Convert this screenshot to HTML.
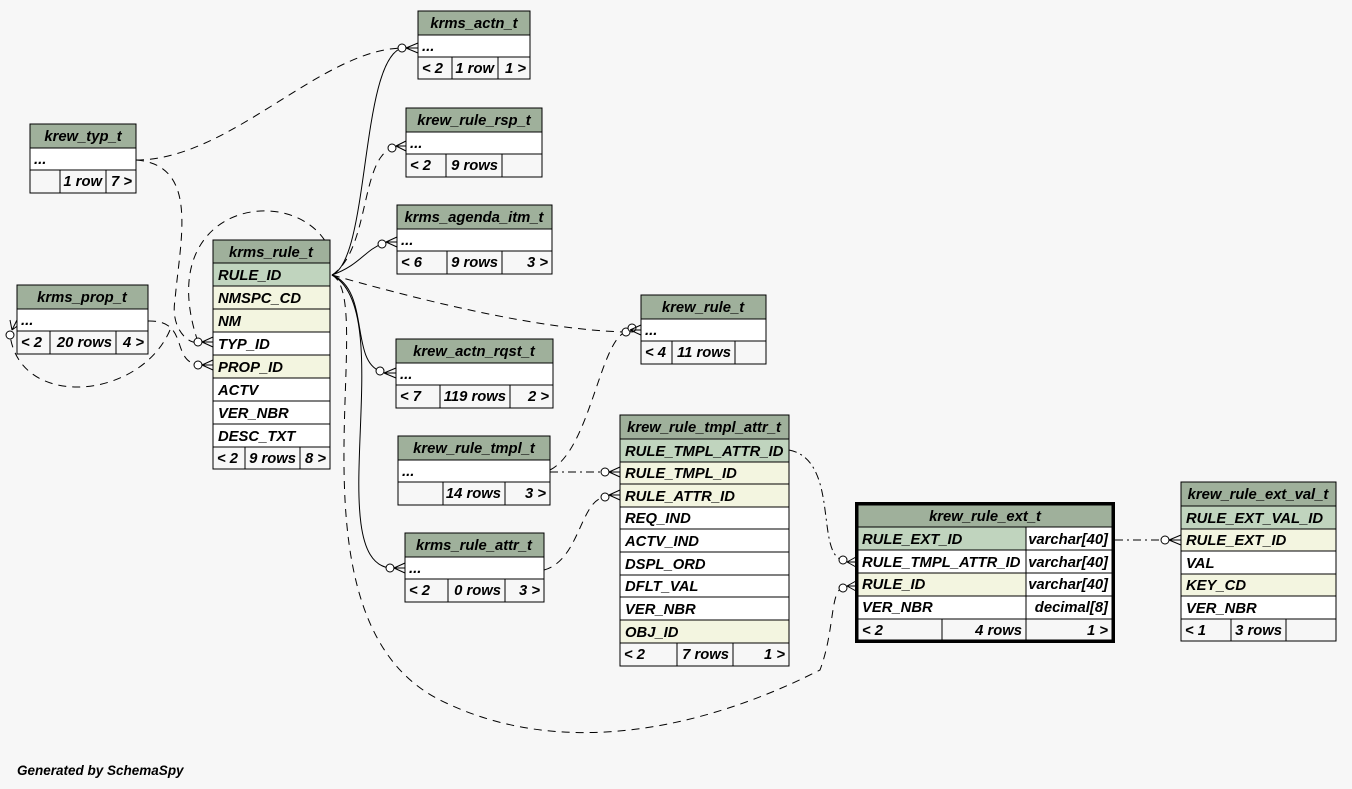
<!DOCTYPE html>
<html><head><meta charset="utf-8"><style>
html,body{margin:0;padding:0;background:#f7f7f7}
svg{display:block}
text{font-family:"Liberation Sans",Arial,sans-serif;font-weight:bold;font-style:italic;font-size:14.8px;fill:#000}
.h{fill:#9fb09b}.pk{fill:#c0d4be}.fk{fill:#f3f5e0}.w{fill:#fff}.f{fill:#f7f7f7}
rect{stroke:#000;stroke-width:1}
.e{fill:none;stroke:#000;stroke-width:1;stroke-dasharray:8,6}
.ed{fill:none;stroke:#000;stroke-width:1;stroke-dasharray:8,4,2,4}
.s{fill:none;stroke:#000;stroke-width:1}
circle{fill:#fff;stroke:#000}
</style></head><body>
<svg width="1352" height="789" viewBox="0 0 1352 789">
<rect x="0" y="0" width="1352" height="789" style="fill:#f7f7f7;stroke:none"/>

<path class="e" d="M136,160 C230,160 320,50 402,48"/>
<path class="s" d="M332,275 C370,260 360,60 402,48"/>
<path class="e" d="M332,275 C370,250 360,160 392,148"/>
<path class="s" d="M332,275 C360,265 365,250 382,244"/>
<path class="e" d="M332,275 C420,300 540,330 626,332"/>
<path class="s" d="M332,275 C370,290 350,360 380,371"/>
<path class="s" d="M332,275 C400,310 320,560 390,568"/>
<path class="e" d="M332,275 C380,300 280,620 440,700 C600,780 780,690 820,670 C835,630 830,590 843,588"/>
<path class="e" d="M136,160 C200,165 180,240 175,300 C170,330 190,345 198,342"/>
<path class="e" d="M148,321 C190,320 170,360 198,365"/>
<path class="e" d="M198,342 C150,200 300,180 330,250 M170,330 C140,400 20,410 10,335"/>
<path class="e" d="M550,470 C590,450 600,340 626,332"/>
<path class="ed" d="M550,472 L605,472"/>
<path class="e" d="M544,570 C580,560 580,500 605,497"/>
<path class="ed" d="M789,450 C840,460 815,555 843,560"/>
<path class="ed" d="M1115,540 L1165,540"/>
<circle cx="402" cy="48" r="4"/><path class="s" d="M406,48 L418,48 M406,48 L418,43 M406,48 L418,53"/>
<circle cx="392" cy="148" r="4"/><path class="s" d="M396,146 L406,146 M396,146 L406,141 M396,146 L406,151"/>
<circle cx="382" cy="244" r="4"/><path class="s" d="M386,242 L397,242 M386,242 L397,237 M386,242 L397,247"/>
<circle cx="380" cy="371" r="4"/><path class="s" d="M384,373 L396,373 M384,373 L396,368 M384,373 L396,378"/>
<circle cx="390" cy="568" r="4"/><path class="s" d="M394,568 L405,568 M394,568 L405,563 M394,568 L405,573"/>
<circle cx="198" cy="342" r="4"/><path class="s" d="M202,342 L213,342 M202,342 L213,337 M202,342 L213,347"/>
<circle cx="198" cy="365" r="4"/><path class="s" d="M202,365 L213,365 M202,365 L213,360 M202,365 L213,370"/>
<circle cx="10" cy="335" r="4"/><path class="s" d="M12,330 L17,320 M12,330 L10,320 M12,330 L20,324"/>
<circle cx="626" cy="332" r="4"/><circle cx="632" cy="328" r="4"/><path class="s" d="M630,330 L641,330 M630,330 L641,325 M630,330 L641,335"/>
<circle cx="605" cy="472" r="4"/><path class="s" d="M609,472 L620,472 M609,472 L620,467 M609,472 L620,477"/>
<circle cx="605" cy="497" r="4"/><path class="s" d="M609,495 L620,495 M609,495 L620,490 M609,495 L620,500"/>
<circle cx="843" cy="560" r="4"/><path class="s" d="M847,562 L856,562 M847,562 L856,557 M847,562 L856,567"/>
<circle cx="843" cy="588" r="4"/><path class="s" d="M847,586 L856,586 M847,586 L856,581 M847,586 L856,591"/>
<circle cx="1165" cy="540" r="4"/><path class="s" d="M1169,540 L1181,540 M1169,540 L1181,535 M1169,540 L1181,545"/>

<rect class="h" x="418" y="11" width="112" height="24"/><text x="474" y="28" text-anchor="middle">krms_actn_t</text>
<rect class="w" x="418" y="35" width="112" height="22"/><text x="422" y="51">...</text>
<rect class="f" x="418" y="57" width="34" height="22"/><rect class="f" x="452" y="57" width="46" height="22"/><rect class="f" x="498" y="57" width="32" height="22"/>
<text x="422" y="73">&lt; 2</text><text x="494" y="73" text-anchor="end">1 row</text><text x="526" y="73" text-anchor="end">1 &gt;</text>

<rect class="h" x="406" y="108" width="136" height="24"/><text x="474" y="125" text-anchor="middle">krew_rule_rsp_t</text>
<rect class="w" x="406" y="132" width="136" height="22"/><text x="410" y="148">...</text>
<rect class="f" x="406" y="154" width="40" height="23"/><rect class="f" x="446" y="154" width="56" height="23"/><rect class="f" x="502" y="154" width="40" height="23"/>
<text x="410" y="170">&lt; 2</text><text x="498" y="170" text-anchor="end">9 rows</text>

<rect class="h" x="397" y="205" width="155" height="24"/><text x="474" y="222" text-anchor="middle">krms_agenda_itm_t</text>
<rect class="w" x="397" y="229" width="155" height="22"/><text x="401" y="245">...</text>
<rect class="f" x="397" y="251" width="50" height="23"/><rect class="f" x="447" y="251" width="55" height="23"/><rect class="f" x="502" y="251" width="50" height="23"/>
<text x="401" y="267">&lt; 6</text><text x="498" y="267" text-anchor="end">9 rows</text><text x="548" y="267" text-anchor="end">3 &gt;</text>

<rect class="h" x="30" y="124" width="106" height="24"/><text x="83" y="141" text-anchor="middle">krew_typ_t</text>
<rect class="w" x="30" y="148" width="106" height="22"/><text x="34" y="164">...</text>
<rect class="f" x="30" y="170" width="30" height="23"/><rect class="f" x="60" y="170" width="46" height="23"/><rect class="f" x="106" y="170" width="30" height="23"/>
<text x="102" y="186" text-anchor="end">1 row</text><text x="132" y="186" text-anchor="end">7 &gt;</text>

<rect class="h" x="17" y="285" width="131" height="24"/><text x="82" y="302" text-anchor="middle">krms_prop_t</text>
<rect class="w" x="17" y="309" width="131" height="22"/><text x="21" y="325">...</text>
<rect class="f" x="17" y="331" width="33" height="23"/><rect class="f" x="50" y="331" width="66" height="23"/><rect class="f" x="116" y="331" width="32" height="23"/>
<text x="21" y="347">&lt; 2</text><text x="112" y="347" text-anchor="end">20 rows</text><text x="144" y="347" text-anchor="end">4 &gt;</text>

<rect class="h" x="213" y="240" width="117" height="23"/><text x="271" y="257" text-anchor="middle">krms_rule_t</text>
<rect class="pk" x="213" y="263" width="117" height="23"/><text x="218" y="280">RULE_ID</text>
<rect class="fk" x="213" y="286" width="117" height="23"/><text x="218" y="303">NMSPC_CD</text>
<rect class="fk" x="213" y="309" width="117" height="23"/><text x="218" y="326">NM</text>
<rect class="w" x="213" y="332" width="117" height="23"/><text x="218" y="349">TYP_ID</text>
<rect class="fk" x="213" y="355" width="117" height="23"/><text x="218" y="372">PROP_ID</text>
<rect class="w" x="213" y="378" width="117" height="23"/><text x="218" y="395">ACTV</text>
<rect class="w" x="213" y="401" width="117" height="23"/><text x="218" y="418">VER_NBR</text>
<rect class="w" x="213" y="424" width="117" height="23"/><text x="218" y="441">DESC_TXT</text>
<rect class="f" x="213" y="447" width="32" height="22"/><rect class="f" x="245" y="447" width="55" height="22"/><rect class="f" x="300" y="447" width="30" height="22"/>
<text x="217" y="463">&lt; 2</text><text x="296" y="463" text-anchor="end">9 rows</text><text x="326" y="463" text-anchor="end">8 &gt;</text>

<rect class="h" x="641" y="295" width="125" height="24"/><text x="703" y="312" text-anchor="middle">krew_rule_t</text>
<rect class="w" x="641" y="319" width="125" height="22"/><text x="645" y="335">...</text>
<rect class="f" x="641" y="341" width="31" height="23"/><rect class="f" x="672" y="341" width="63" height="23"/><rect class="f" x="735" y="341" width="31" height="23"/>
<text x="645" y="357">&lt; 4</text><text x="731" y="357" text-anchor="end">11 rows</text>

<rect class="h" x="396" y="339" width="157" height="24"/><text x="474" y="356" text-anchor="middle">krew_actn_rqst_t</text>
<rect class="w" x="396" y="363" width="157" height="22"/><text x="400" y="379">...</text>
<rect class="f" x="396" y="385" width="44" height="23"/><rect class="f" x="440" y="385" width="70" height="23"/><rect class="f" x="510" y="385" width="43" height="23"/>
<text x="400" y="401">&lt; 7</text><text x="506" y="401" text-anchor="end">119 rows</text><text x="549" y="401" text-anchor="end">2 &gt;</text>

<rect class="h" x="398" y="436" width="152" height="24"/><text x="474" y="453" text-anchor="middle">krew_rule_tmpl_t</text>
<rect class="w" x="398" y="460" width="152" height="22"/><text x="402" y="476">...</text>
<rect class="f" x="398" y="482" width="45" height="23"/><rect class="f" x="443" y="482" width="62" height="23"/><rect class="f" x="505" y="482" width="45" height="23"/>
<text x="501" y="498" text-anchor="end">14 rows</text><text x="546" y="498" text-anchor="end">3 &gt;</text>

<rect class="h" x="405" y="533" width="139" height="24"/><text x="474" y="550" text-anchor="middle">krms_rule_attr_t</text>
<rect class="w" x="405" y="557" width="139" height="22"/><text x="409" y="573">...</text>
<rect class="f" x="405" y="579" width="43" height="23"/><rect class="f" x="448" y="579" width="57" height="23"/><rect class="f" x="505" y="579" width="39" height="23"/>
<text x="409" y="595">&lt; 2</text><text x="501" y="595" text-anchor="end">0 rows</text><text x="540" y="595" text-anchor="end">3 &gt;</text>

<rect class="h" x="620" y="415" width="169" height="24"/><text x="704" y="432" text-anchor="middle">krew_rule_tmpl_attr_t</text>
<rect class="pk" x="620" y="439" width="169" height="23"/><text x="625" y="456">RULE_TMPL_ATTR_ID</text>
<rect class="fk" x="620" y="462" width="169" height="22"/><text x="625" y="478">RULE_TMPL_ID</text>
<rect class="fk" x="620" y="484" width="169" height="23"/><text x="625" y="501">RULE_ATTR_ID</text>
<rect class="w" x="620" y="507" width="169" height="22"/><text x="625" y="523">REQ_IND</text>
<rect class="w" x="620" y="529" width="169" height="23"/><text x="625" y="546">ACTV_IND</text>
<rect class="w" x="620" y="552" width="169" height="23"/><text x="625" y="569">DSPL_ORD</text>
<rect class="w" x="620" y="575" width="169" height="22"/><text x="625" y="591">DFLT_VAL</text>
<rect class="w" x="620" y="597" width="169" height="23"/><text x="625" y="614">VER_NBR</text>
<rect class="fk" x="620" y="620" width="169" height="23"/><text x="625" y="637">OBJ_ID</text>
<rect class="f" x="620" y="643" width="57" height="23"/><rect class="f" x="677" y="643" width="56" height="23"/><rect class="f" x="733" y="643" width="56" height="23"/>
<text x="624" y="659">&lt; 2</text><text x="729" y="659" text-anchor="end">7 rows</text><text x="785" y="659" text-anchor="end">1 &gt;</text>

<rect x="856" y="503" width="258" height="139" style="fill:#000;stroke:#000;stroke-width:2"/>
<rect class="h" x="858" y="505" width="254" height="22"/><text x="985" y="521" text-anchor="middle">krew_rule_ext_t</text>
<rect class="pk" x="858" y="527" width="168" height="23"/><rect class="w" x="1026" y="527" width="86" height="23"/><text x="862" y="544">RULE_EXT_ID</text><text x="1108" y="544" text-anchor="end">varchar[40]</text>
<rect class="w" x="858" y="550" width="168" height="23"/><rect class="w" x="1026" y="550" width="86" height="23"/><text x="862" y="567">RULE_TMPL_ATTR_ID</text><text x="1108" y="567" text-anchor="end">varchar[40]</text>
<rect class="fk" x="858" y="573" width="168" height="23"/><rect class="w" x="1026" y="573" width="86" height="23"/><text x="862" y="589">RULE_ID</text><text x="1108" y="589" text-anchor="end">varchar[40]</text>
<rect class="w" x="858" y="596" width="168" height="23"/><rect class="w" x="1026" y="596" width="86" height="23"/><text x="862" y="612">VER_NBR</text><text x="1108" y="612" text-anchor="end">decimal[8]</text>
<rect class="f" x="858" y="619" width="84" height="21"/><rect class="f" x="942" y="619" width="84" height="21"/><rect class="f" x="1026" y="619" width="86" height="21"/>
<text x="862" y="635">&lt; 2</text><text x="1022" y="635" text-anchor="end">4 rows</text><text x="1108" y="635" text-anchor="end">1 &gt;</text>

<rect class="h" x="1181" y="482" width="155" height="24"/><text x="1258" y="499" text-anchor="middle">krew_rule_ext_val_t</text>
<rect class="pk" x="1181" y="506" width="155" height="23"/><text x="1186" y="523">RULE_EXT_VAL_ID</text>
<rect class="fk" x="1181" y="529" width="155" height="22"/><text x="1186" y="545">RULE_EXT_ID</text>
<rect class="w" x="1181" y="551" width="155" height="23"/><text x="1186" y="568">VAL</text>
<rect class="fk" x="1181" y="574" width="155" height="22"/><text x="1186" y="590">KEY_CD</text>
<rect class="w" x="1181" y="596" width="155" height="23"/><text x="1186" y="613">VER_NBR</text>
<rect class="f" x="1181" y="619" width="50" height="22"/><rect class="f" x="1231" y="619" width="55" height="22"/><rect class="f" x="1286" y="619" width="50" height="22"/>
<text x="1185" y="635">&lt; 1</text><text x="1282" y="635" text-anchor="end">3 rows</text>

<text x="17" y="775" style="font-size:13.5px">Generated by SchemaSpy</text>
</svg>
</body></html>
